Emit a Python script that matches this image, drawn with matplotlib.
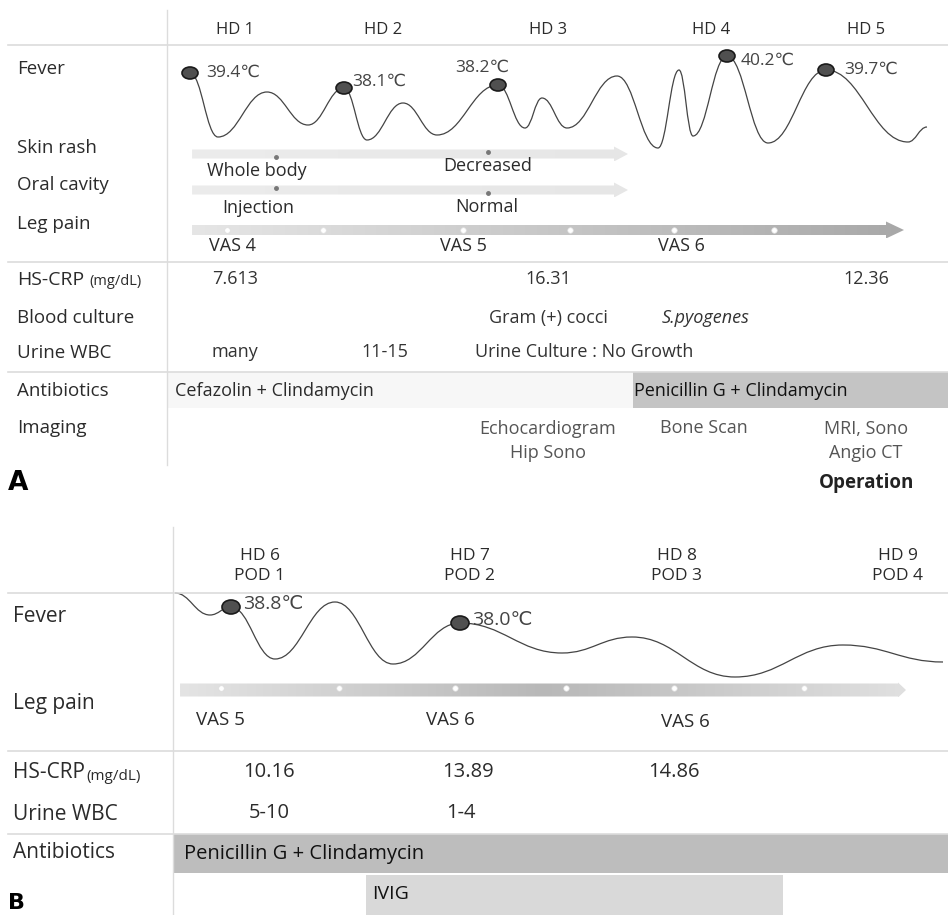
"""Clinical course timeline (panels A and B) redrawn with matplotlib."""
import matplotlib
import numpy as np

matplotlib.use("Agg")
import matplotlib.pyplot as plt
from matplotlib.path import Path
from matplotlib.patches import PathPatch, Polygon, Rectangle, Ellipse

# ---- panel A data -------------------------------------------------------
DAYS_A = ["HD 1", "HD 2", "HD 3", "HD 4", "HD 5"]
DAY_X_A = [235, 383, 548, 711, 866]
# fever curve turning points
FEVER_A_X = [190, 218, 267, 308, 344, 367, 403, 437, 498, 525, 542, 567, 617,
             658, 679, 693, 727, 768, 826, 908, 927]
FEVER_A_Y = [73, 137, 92, 125, 88, 140, 103, 135, 85, 128, 98, 128, 76,
             148, 70, 136, 56, 143, 70, 142, 127]
PEAK_IDX_A = [0, 4, 8, 16, 18]
PEAK_TEMP_A = ["39.4℃", "38.1℃", "38.2℃", "40.2℃", "39.7℃"]
SKIN_RASH = ["Whole body", "Decreased"]
ORAL_CAVITY = ["Injection", "Normal"]
VAS_A = ["VAS 4", "VAS 5", "VAS 6"]
CRP_A = ["7.613", "16.31", "12.36"]
BLOOD_CULTURE = ["Gram (+) cocci", "S.pyogenes"]
URINE_A = ["many", "11-15", "Urine Culture : No Growth"]
ANTIBIOTICS_A = ["Cefazolin + Clindamycin", "Penicillin G + Clindamycin"]
IMAGING = ["Echocardiogram\nHip Sono", "Bone Scan", "MRI, Sono\nAngio CT"]

# ---- panel B data -------------------------------------------------------
DAYS_B = ["HD 6\nPOD 1", "HD 7\nPOD 2", "HD 8\nPOD 3", "HD 9\nPOD 4"]
DAY_X_B = [260, 470, 677, 898]
FEVER_B_X = [175, 210, 231, 275, 335, 393, 460, 562, 632, 735, 843, 943]
FEVER_B_Y = [593, 615, 607, 659, 602, 664, 623, 653, 637, 677, 645, 662]
PEAK_IDX_B = [2, 6]
PEAK_TEMP_B = ["38.8℃", "38.0℃"]
VAS_B = ["VAS 5", "VAS 6", "VAS 6"]
CRP_B = ["10.16", "13.89", "14.86"]
URINE_B = ["5-10", "1-4"]
ANTIBIOTICS_B = ["Penicillin G + Clindamycin", "IVIG"]

TXT = "#2b2b2b"
LINE = "#dcdcdc"
FONT = ["Open Sans", "DejaVu Sans"]


def label(ax, x, y, s, size, ha="left", color=TXT, **kw):
    return ax.text(x, y, s, ha=ha, va="center", fontsize=size, color=color,
                   family=FONT, **kw)


def wave(ax, xs, ys):
    verts, codes = [(xs[0], ys[0])], [Path.MOVETO]
    for (x0, y0), (x1, y1) in zip(zip(xs[:-1], ys[:-1]), zip(xs[1:], ys[1:])):
        d = (x1 - x0) * 0.42
        verts += [(x0 + d, y0), (x1 - d, y1), (x1, y1)]
        codes += [Path.CURVE4] * 3
    ax.add_patch(PathPatch(Path(verts, codes), fc="none", ec="#444444", lw=0.9))


def arrow(ax, x0, x1, y, h, head_h, head_l, c0, c1, cmid=None):
    pts = [(x0, y - h / 2), (x1 - head_l, y - h / 2), (x1 - head_l, y - head_h / 2),
           (x1, y), (x1 - head_l, y + head_h / 2), (x1 - head_l, y + h / 2),
           (x0, y + h / 2)]
    poly = Polygon(pts, closed=True, fc="none", ec="none")
    ax.add_patch(poly)
    t = np.linspace(0, 1, 256)[:, None]
    a, b = np.array(matplotlib.colors.to_rgb(c0)), np.array(matplotlib.colors.to_rgb(c1))
    if cmid is None:
        g = a + (b - a) * t
    else:
        m = np.array(matplotlib.colors.to_rgb(cmid))
        g = np.where(t < 0.5, a + (m - a) * (t * 2), m + (b - m) * ((t - 0.5) * 2))
    im = ax.imshow(g[None, :, :], extent=(x0, x1, y + head_h / 2, y - head_h / 2),
                   aspect="auto", zorder=1)
    im.set_clip_path(poly)


fig = plt.figure(figsize=(9.48, 9.15), dpi=100)
ax = fig.add_axes([0, 0, 1, 1])
ax.set_xlim(0, 948)
ax.set_ylim(915, 0)
ax.axis("off")

# ================= panel A =================
ax.plot([167, 167], [10, 465], color=LINE, lw=1)
for y in (45, 262, 372):
    ax.plot([8, 948], [y, y], color=LINE, lw=1.2)

for lbl, x in zip(DAYS_A, DAY_X_A):
    label(ax, x, 30, lbl, 12, ha="center")

for lbl, y in zip(["Fever", "Skin rash", "Oral cavity", "Leg pain"], [69, 148, 185, 224]):
    label(ax, 17, y, lbl, 13.5)

wave(ax, FEVER_A_X, FEVER_A_Y)
lab_off = [(16, 0), (8, -6), (-43, -17), (14, 5), (18, 0)]
for i, t, (dx, dy) in zip(PEAK_IDX_A, PEAK_TEMP_A, lab_off):
    x, y = FEVER_A_X[i], FEVER_A_Y[i]
    ax.add_patch(Ellipse((x, y), 16, 12, fc="#505050", ec="#1a1a1a", lw=1.2, zorder=5))
    label(ax, x + dx, y + dy, t, 12.5, color="#444444")

arrow(ax, 192, 628, 154, 9, 15, 14, "#ececec", "#e6e6e6")
arrow(ax, 192, 628, 190, 9, 15, 14, "#ececec", "#e6e6e6")
arrow(ax, 192, 904, 230, 10, 17, 18, "#e6e6e6", "#a8a8a8")
for x, y in [(276, 157), (488, 152), (276, 188), (488, 193)]:
    ax.plot(x, y, "o", ms=2.5, color="#777777", zorder=4)
for x in [227, 323, 463, 570, 674, 774]:
    ax.plot(x, 230, "o", ms=4, color="white", mec="#e0e0e0", mew=0.5, zorder=4)

for t, x, y in zip(SKIN_RASH, [207, 443], [171, 166]):
    label(ax, x, y, t, 13)
for t, x, y in zip(ORAL_CAVITY, [222, 455], [208, 207]):
    label(ax, x, y, t, 13)
for t, x in zip(VAS_A, [209, 440, 658]):
    label(ax, x, 246, t, 13)

# lower rows of A
hs = label(ax, 17, 280, "HS-CRP", 14)
ax.annotate("(mg/dL)", xy=(1, 0), xycoords=hs, xytext=(4, 0), textcoords="offset points",
            ha="left", va="bottom", fontsize=10.5, color=TXT, family=FONT)
for lbl, y in zip(["Blood culture", "Urine WBC", "Antibiotics", "Imaging"],
                  [318, 353, 391, 428]):
    label(ax, 17, y, lbl, 13.5)

for t, x in zip(CRP_A, [235, 548, 866]):
    label(ax, x, 279, t, 13, ha="center", color="#333333")
label(ax, 548, 318, BLOOD_CULTURE[0], 13, ha="center", color="#333333")
label(ax, 706, 318, BLOOD_CULTURE[1], 13, ha="center", color="#333333", style="italic")
for t, x, ha in zip(URINE_A, [235, 385, 475], ["center", "center", "left"]):
    label(ax, x, 352, t, 13, ha=ha, color="#333333")

ax.add_patch(Rectangle((167, 372), 466, 36, fc="#f7f7f7", ec="none", zorder=0))
ax.add_patch(Rectangle((633, 372), 315, 36, fc="#c4c4c4", ec="none", zorder=0))
label(ax, 175, 391, ANTIBIOTICS_A[0], 13)
label(ax, 634, 391, ANTIBIOTICS_A[1], 13, color="#111111")
for t, x in zip(IMAGING, [548, 704, 866]):
    label(ax, x, 441 if "\n" in t else 428, t, 13, ha="center", color="#555555",
          linespacing=1.45)

ax.text(8, 483, "A", ha="left", va="center", fontsize=19, weight="bold", color="black")
label(ax, 867, 483, "Operation", 13.5, ha="center", color="#222222", weight="bold")

# ================= panel B =================
ax.plot([173, 173], [527, 915], color=LINE, lw=1)
for y in (593, 751, 834):
    ax.plot([8, 948], [y, y], color=LINE, lw=1.2)

for lbl, x in zip(DAYS_B, DAY_X_B):
    label(ax, x, 566, lbl, 12.5, ha="center", linespacing=1.35)

label(ax, 13, 616, "Fever", 15)
label(ax, 13, 704, "Leg pain", 15)
hs = label(ax, 13, 773, "HS-CRP", 15)
ax.annotate("(mg/dL)", xy=(1, 0), xycoords=hs, xytext=(1, 0), textcoords="offset points",
            ha="left", va="bottom", fontsize=11, color=TXT, family=FONT)
label(ax, 13, 814, "Urine WBC", 15)
label(ax, 13, 853, "Antibiotics", 15)

wave(ax, FEVER_B_X, FEVER_B_Y)
for i, t in zip(PEAK_IDX_B, PEAK_TEMP_B):
    x, y = FEVER_B_X[i], FEVER_B_Y[i]
    ax.add_patch(Ellipse((x, y), 18, 14, fc="#505050", ec="#1a1a1a", lw=1.2, zorder=5))
    label(ax, x + 12, y - 3, t, 14, color="#444444")

arrow(ax, 180, 906, 690, 13, 15, 8, "#e4e4e4", "#e0e0e0", cmid="#b8b8b8")
for x in [221, 339, 455, 566, 674, 804]:
    ax.plot(x, 688, "o", ms=4, color="white", mec="#dddddd", mew=0.5, zorder=4)
for t, x, y in zip(VAS_B, [220, 450, 685], [720, 720, 722]):
    label(ax, x, y, t, 13.5, ha="center")

for t, x in zip(CRP_B, [269, 468, 674]):
    label(ax, x, 772, t, 14.5, ha="center")
for t, x in zip(URINE_B, [269, 461]):
    label(ax, x, 813, t, 14.5, ha="center")

ax.add_patch(Rectangle((173, 834), 775, 39, fc="#bdbdbd", ec="none", zorder=0))
ax.add_patch(Rectangle((366, 875), 417, 40, fc="#d9d9d9", ec="none", zorder=0))
label(ax, 184, 854, ANTIBIOTICS_B[0], 14.5, color="#111111")
label(ax, 372, 894, ANTIBIOTICS_B[1], 14, color="#111111")
ax.text(8, 913, "B", ha="left", va="bottom", fontsize=16, weight="bold", color="black")

fig.savefig("out.png", dpi=100)
